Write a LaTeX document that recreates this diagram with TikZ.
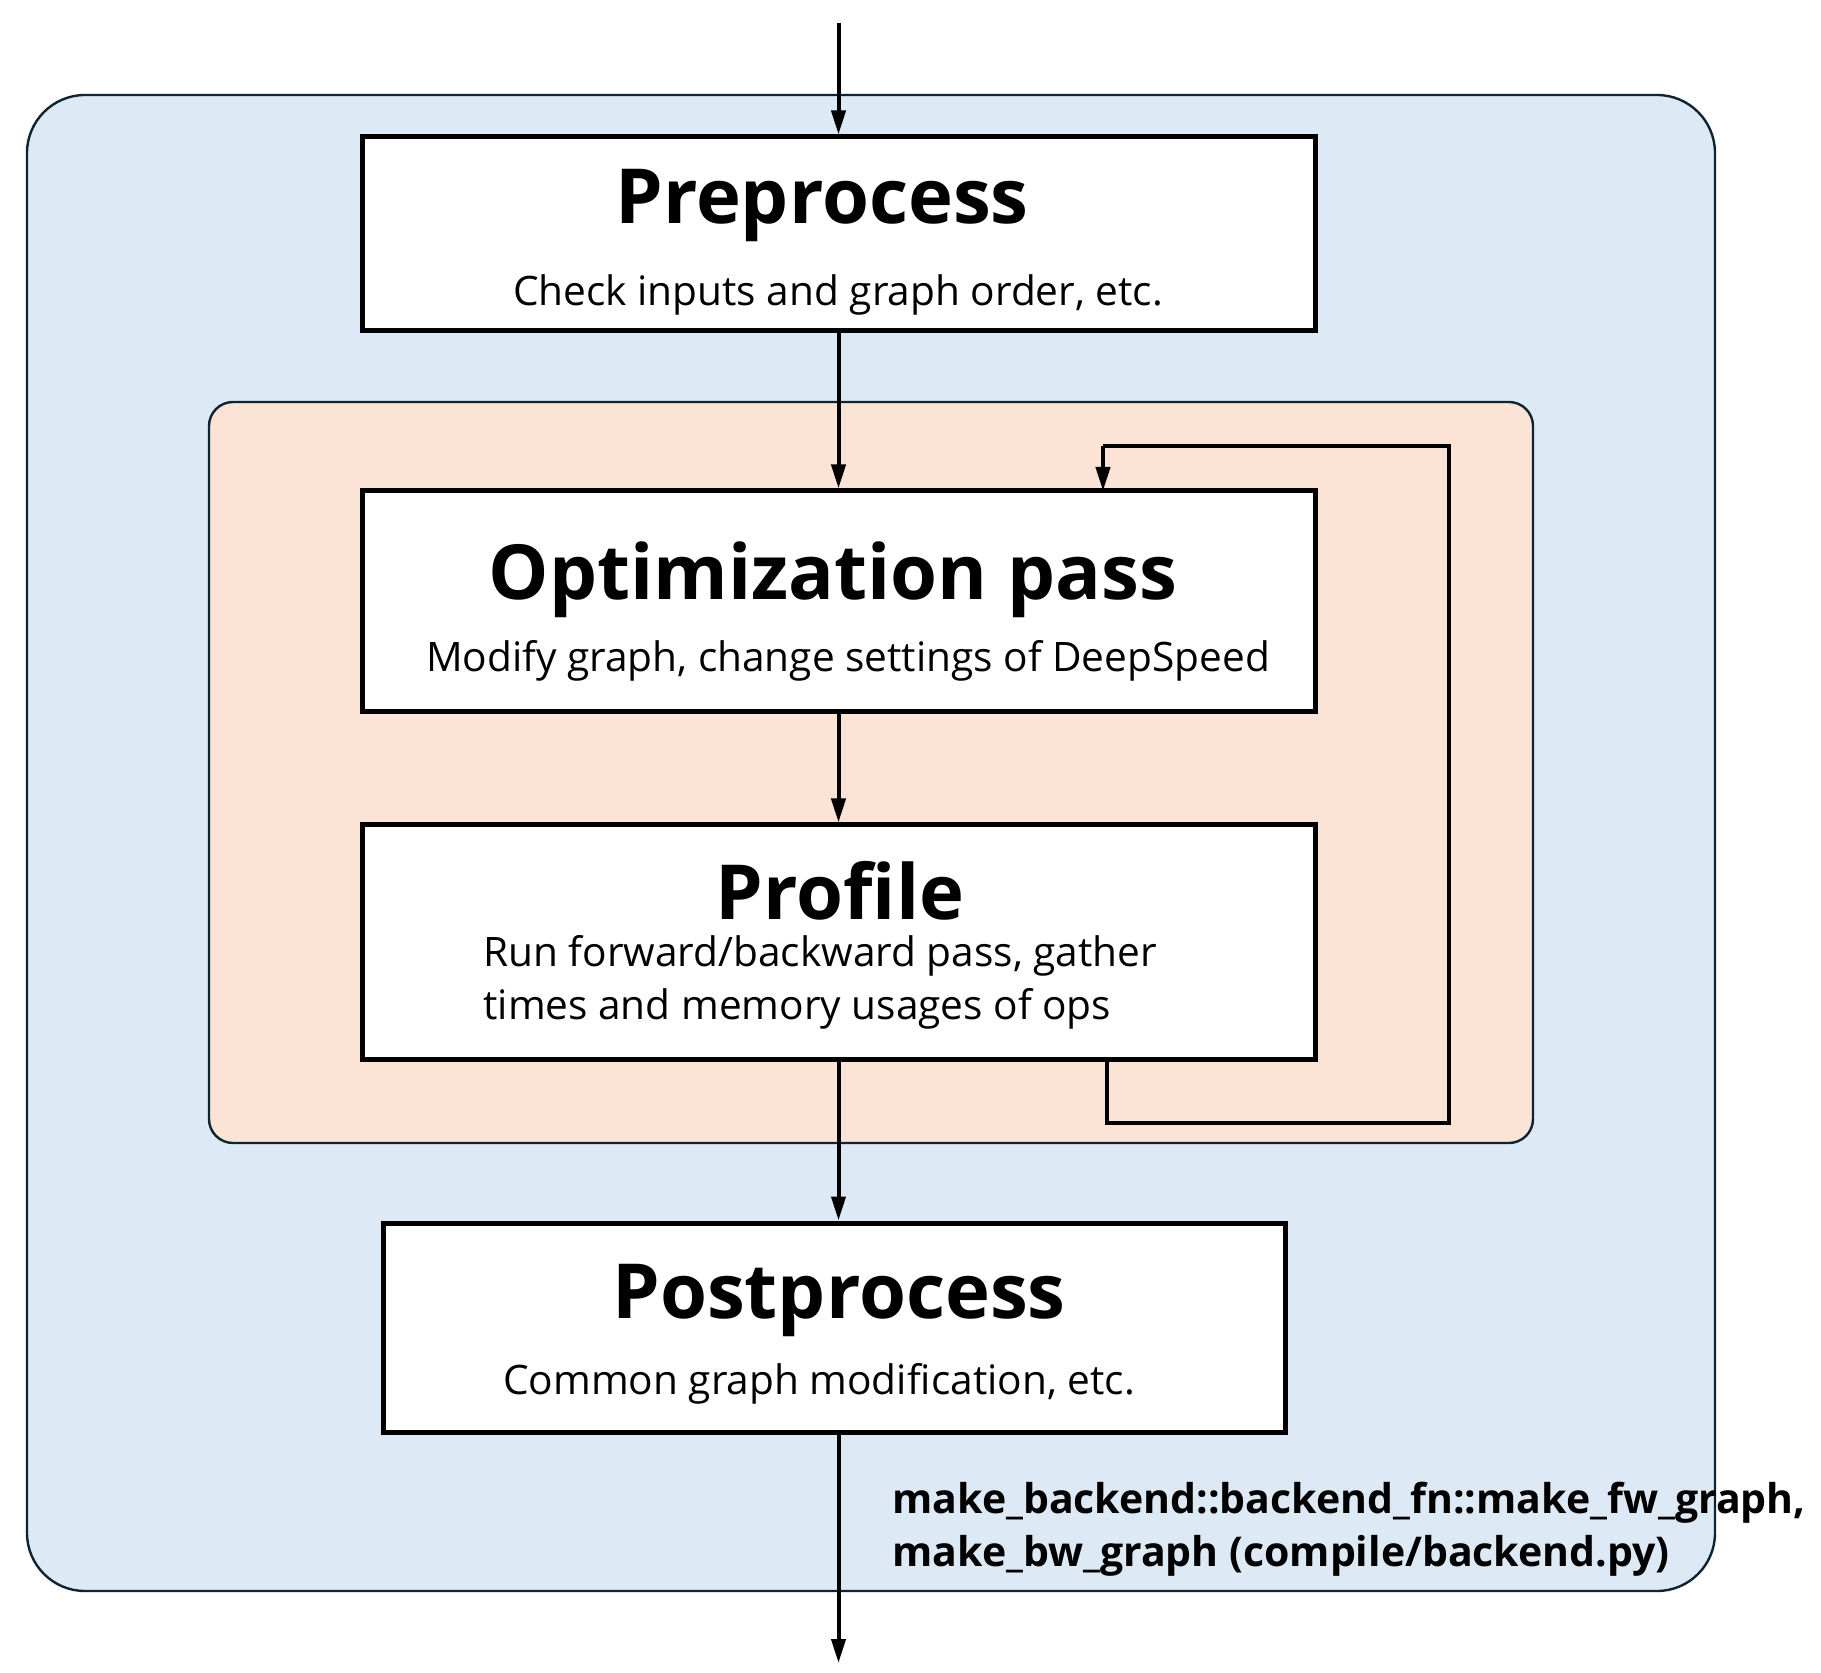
\documentclass[tikz,border=0pt]{standalone}
\usepackage{fontspec}
\setmainfont{Open Sans}[Ligatures=NoCommon]
\usetikzlibrary{arrows.meta}
\definecolor{outerfill}{HTML}{DDEAF6}
\definecolor{innerfill}{HTML}{FBE3D6}
\definecolor{frameline}{HTML}{0E2433}
\begin{document}
\begin{tikzpicture}[x=0.5pt,y=-0.5pt,
  stepbox/.style={draw=black,line width=2.5pt,fill=white,inner sep=0pt},
  titletext/.style={font=\fontsize{38}{42}\selectfont\bfseries,inner sep=0pt},
  subtext/.style={font=\fontsize{20.3}{24}\selectfont,inner sep=0pt},
  labtext/.style={font=\fontsize{20.5}{24}\selectfont\bfseries,inner sep=0pt,anchor=west},
  flow/.style={line width=2pt,-{Triangle[length=12pt,width=7pt]}},
  loopline/.style={line width=2pt}]
\useasboundingbox (0,0) rectangle (1821,1673);
% containers
\draw[frameline,line width=1.2pt,fill=outerfill,rounded corners=29pt] (27,95) rectangle (1715,1591);
\draw[frameline,line width=1.2pt,fill=innerfill,rounded corners=12pt] (209,402) rectangle (1533,1143);
% boxes
\node[stepbox,minimum width=476.5pt,minimum height=97pt] (pre) at (838.5,234) {};
\node[stepbox,minimum width=476.5pt,minimum height=110.5pt] (opt) at (838.5,601.5) {};
\node[stepbox,minimum width=476.5pt,minimum height=117pt] (prof) at (838.5,942) {};
\node[stepbox,minimum width=451pt,minimum height=104.5pt] (post) at (834,1327.5) {};
% texts
\node[titletext] (preT) at (822,206) {Preprocess};
\node[subtext] (preS) at (838,295) {Check inputs and graph order, etc.};
\node[titletext] (optT) at (833,580) {Optimization pass};
\node[subtext] (optS) at (848,661) {Modify graph, change settings of DeepSpeed};
\node[titletext] (profT) at (840,891) {Profile};
\node[subtext,anchor=west] (profS1) at (483,956) {Run forward/backward pass, gather};
\node[subtext,anchor=west] (profS2) at (483,1009) {times and memory usages of ops};
\node[titletext] (postT) at (839,1300) {Postprocess};
\node[subtext] (postS) at (819,1384) {Common graph modification, etc.};
\node[labtext] (lab1) at (892,1503) {make\_backend::backend\_fn::make\_fw\_graph,};
\node[labtext] (lab2) at (892,1556) {make\_bw\_graph (compile/backend.py)};
% connectors
\coordinate (in) at (838.5,23);
\coordinate (out) at (838.5,1663);
\draw[flow] (in) -- (pre.north);
\draw[flow] (pre.south) -- (opt.north);
\draw[flow] (opt.south) -- (prof.north);
\draw[flow] (prof.south) -- (prof.south |- post.north);
\draw[flow] (post.south -| out) -- (out);
% feedback loop
\coordinate (lp1) at (1107,1059);
\coordinate (lp2) at (1107,1123);
\coordinate (lp3) at (1449,1123);
\coordinate (lp4) at (1449,446);
\coordinate (lp5) at (1103,446);
\coordinate (lp6) at (1103,491);
\draw[loopline] (lp1) -- (lp2) -- (lp3) -- (lp4) -- (lp5);
\draw[flow] (lp5) -- (lp6);
\end{tikzpicture}
\end{document}
